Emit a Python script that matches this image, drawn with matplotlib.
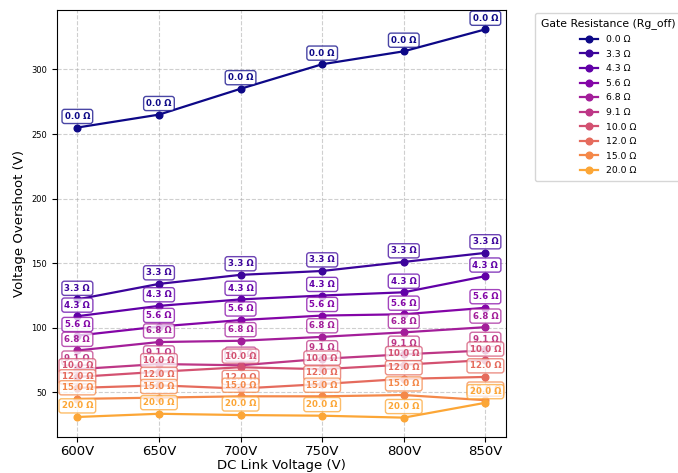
import numpy as np
import matplotlib
matplotlib.use('Agg')
from matplotlib import pyplot as plt

# DC link voltages (x axis)
voltages = [600, 650, 700, 750, 800, 850]
voltage_labels = ['600V', '650V', '700V', '750V', '800V', '850V']

# Gate resistances (legend) and overshoot per resistance
rg_off = [0.0, 3.3, 4.3, 5.6, 6.8, 9.1, 10.0, 12.0, 15.0, 20.0]
os_0_0 = [255, 265, 285, 304, 314, 331]
os_3_3 = [122, 134, 141, 144, 151, 158]
os_4_3 = [109, 117, 122, 125, 127.5, 140]
os_5_6 = [94, 101, 106, 109.5, 110.5, 115.5]
os_6_8 = [82.5, 89, 90, 93, 96.5, 100.5]
os_9_1 = [68, 72, 71, 76, 79.5, 82.5]
os_10_0 = [62, 66, 69.5, 68, 71.5, 75]
os_12_0 = [53.5, 55.5, 53, 56.5, 60.5, 62]
os_15_0 = [45, 46, 47, 47, 48, 44]
os_20_0 = [31, 33.5, 32.5, 32, 30.5, 42]

overshoots = [os_0_0, os_3_3, os_4_3, os_5_6, os_6_8,
              os_9_1, os_10_0, os_12_0, os_15_0, os_20_0]

colors = plt.cm.plasma(np.linspace(0, 0.8, len(rg_off)))

fig = plt.figure(figsize=(6.78, 4.73), dpi=100)
ax = fig.add_axes([0.084, 0.076, 0.662, 0.903])

for rg, values, color in zip(rg_off, overshoots, colors):
    label = '%.1f \u03a9' % rg
    ax.plot(voltages, values, marker='o', markersize=4.8, lw=1.6,
            color=color, label=label)
    # Tag every point with its gate resistance
    for v, y in zip(voltages, values):
        ax.annotate(label, (v, y), xytext=(0, 8), textcoords='offset points',
                    ha='center', va='center', fontsize=6.2, fontweight='bold',
                    color=color,
                    bbox=dict(boxstyle='round,pad=0.3', fc='white',
                              ec=color, alpha=0.75))

ax.set_xticks(voltages)
ax.set_xticklabels(voltage_labels, fontsize=9.5)
ax.tick_params(axis='x', pad=2.5)
ax.tick_params(axis='y', labelsize=6)
ax.set_xlabel('DC Link Voltage (V)', fontsize=9.5, labelpad=0.5)
ax.set_ylabel('Voltage Overshoot (V)', fontsize=9.5)
ax.grid(True, linestyle='--', alpha=0.6)

# legend sits right of the axes, partly past the figure edge like the original
ax.legend(title='Gate Resistance (Rg_off)', fontsize=6.7, title_fontsize=7.8,
          labelspacing=0.6, borderpad=0.6,
          loc='upper left', bbox_to_anchor=(535 / 678, 1 - 13 / 473),
          bbox_transform=fig.transFigure, borderaxespad=0)

plt.savefig('out.png', dpi=100)
